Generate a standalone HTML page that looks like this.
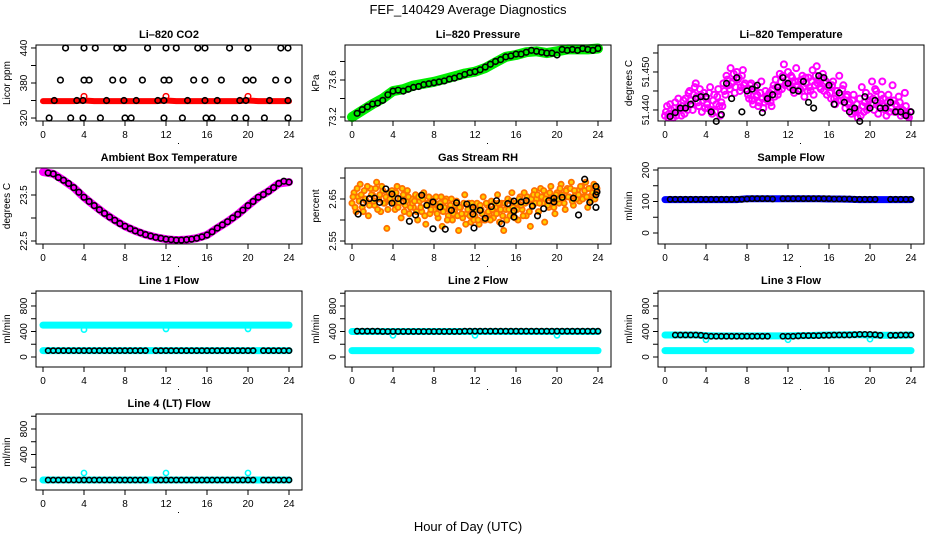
<!DOCTYPE html>
<html><head><meta charset="utf-8">
<style>
html,body{margin:0;padding:0;background:#fff;}
svg{display:block;font-family:"Liberation Sans",Arial,sans-serif;}
</style></head>
<body>
<svg id="chart" width="936" height="540" viewBox="0 0 936 540" xmlns="http://www.w3.org/2000/svg">
<rect x="0" y="0" width="936" height="540" fill="#fff"/>
<text x="468" y="14" text-anchor="middle" font-size="13">FEF_140429  Average Diagnostics</text>
<text x="468" y="531" text-anchor="middle" font-size="13">Hour of Day (UTC)</text>
</svg>
<script>
// ---------- data ----------
const xTicks = [0,4,8,12,16,20,24];
const co2BlackTimes = [2.2,4,5.1,7.2,7.8,10.2,12,13,15.1,15.8,18.2,20,23.2,23.9,
  1.7,4,4.5,6.8,7.8,9.7,11.8,12.3,14.7,15.8,17.4,19.8,20.5,22.7,23.9,
  1.1,3.3,3.9,6.2,7.9,9.1,11.2,11.8,14.1,15.8,17,19.2,19.8,22.1,23.9,
  0.6,2.7,3.9,5.6,8,8.6,11.8,13.6,15.9,16.5,18.7,19.8,21.6,23.9];
const co2BlackValues = [440,440,440,440,440,440,440,440,440,440,440,440,440,440,
  385,385,385,385,385,385,385,385,385,385,385,385,385,385,385,
  350,350,350,350,350,350,350,350,350,350,350,350,350,350,350,
  320,320,320,320,320,320,320,320,320,320,320,320,320,320];
const co2RedBand = [349,349,349,349,350,349,349,349,349,349,349,349,350,349,349,349,349,349,349,349,350,349,349,349,349];
const co2RedBumpTimes = [4,12,20];
const co2RedBumpValues = [357,357,357];

const pressureGreenBand = [73.20,73.27,73.34,73.40,73.48,73.50,73.54,73.56,73.58,73.61,73.64,73.67,73.69,73.73,73.79,73.85,73.87,73.90,73.91,73.89,73.91,73.93,73.93,73.93,73.94];
const pressureBlack = [73.24,73.28,73.31,73.34,73.35,73.38,73.44,73.48,73.49,73.48,73.50,73.52,73.53,73.55,73.56,73.57,73.58,73.59,73.61,73.62,73.64,73.66,73.68,73.69,73.71,73.74,73.77,73.80,73.82,73.85,73.86,73.88,73.88,73.90,73.92,73.91,73.90,73.89,73.89,73.87,73.93,73.92,73.93,73.92,73.94,73.93,73.92,73.94];

const tempMagenta = [51.4385,51.4410,51.4390,51.4400,51.4380,51.4420,51.4395,51.4405,51.4385,51.4425,
 51.4430,51.4400,51.4450,51.4415,51.4440,51.4470,51.4420,51.4455,51.4395,51.4445,
 51.4430,51.4405,51.4460,51.4390,51.4440,51.4415,51.4455,51.4385,51.4410,51.4450,
 51.4490,51.4465,51.4510,51.4475,51.4445,51.4500,51.4485,51.4460,51.4505,51.4470,
 51.4455,51.4430,51.4470,51.4415,51.4460,51.4440,51.4420,51.4475,51.4405,51.4450,
 51.4425,51.4445,51.4410,51.4465,51.4480,51.4440,51.4495,51.4455,51.4520,51.4470,
 51.4500,51.4460,51.4485,51.4445,51.4510,51.4475,51.4455,51.4490,51.4435,51.4470,
 51.4485,51.4450,51.4505,51.4465,51.4515,51.4480,51.4455,51.4495,51.4470,51.4440,
 51.4460,51.4430,51.4475,51.4415,51.4450,51.4490,51.4425,51.4465,51.4405,51.4440,
 51.4420,51.4390,51.4440,51.4400,51.4380,51.4430,51.4460,51.4395,51.4445,51.4410,
 51.4435,51.4475,51.4400,51.4450,51.4390,51.4425,51.4475,51.4410,51.4385,51.4440,
 51.4420,51.4465,51.4395,51.4410,51.4435,51.4385,51.4400,51.4445,51.4390,51.4380];
const tempMagenta2 = [51.4395,51.4380,51.4415,51.4390,51.4405,51.4385,51.4430,51.4400,51.4410,51.4390,
 51.4410,51.4445,51.4425,51.4400,51.4460,51.4435,51.4410,51.4440,51.4425,51.4405,
 51.4415,51.4445,51.4400,51.4425,51.4395,51.4435,51.4410,51.4420,51.4470,51.4440,
 51.4480,51.4455,51.4470,51.4495,51.4460,51.4480,51.4450,51.4490,51.4465,51.4455,
 51.4440,51.4465,51.4425,51.4450,51.4435,51.4410,51.4445,51.4430,51.4420,51.4435,
 51.4440,51.4420,51.4455,51.4435,51.4460,51.4450,51.4475,51.4490,51.4465,51.4480,
 51.4470,51.4490,51.4455,51.4475,51.4465,51.4450,51.4480,51.4460,51.4485,51.4450,
 51.4460,51.4475,51.4440,51.4490,51.4470,51.4460,51.4485,51.4450,51.4475,51.4460,
 51.4445,51.4465,51.4430,51.4450,51.4425,51.4440,51.4455,51.4420,51.4435,51.4415,
 51.4405,51.4425,51.4395,51.4415,51.4400,51.4385,51.4410,51.4420,51.4400,51.4425,
 51.4415,51.4430,51.4455,51.4420,51.4410,51.4440,51.4430,51.4400,51.4420,51.4395,
 51.4405,51.4425,51.4415,51.4395,51.4420,51.4400,51.4390,51.4410,51.4385,51.4395];
const tempBlack = [51.4383,51.4393,51.4405,51.4405,51.4415,51.4430,51.4435,51.4435,51.4395,51.4370,51.4388,51.4470,51.4430,51.4485,51.4395,51.4450,51.4455,51.4465,51.4393,51.4430,51.4440,51.4460,51.4485,51.4470,51.4452,51.4450,51.4475,51.4420,51.4405,51.4490,51.4485,51.4465,51.4415,51.4445,51.4420,51.4395,51.4405,51.4370,51.4435,51.4405,51.4425,51.4405,51.4405,51.4420,51.4395,51.4395,51.4385,51.4395];

const ambientMagentaBand = [24.0,23.96,23.82,23.66,23.45,23.27,23.10,22.95,22.82,22.72,22.64,22.58,22.54,22.52,22.53,22.56,22.63,22.78,22.92,23.08,23.27,23.45,23.58,23.75,23.78];
const ambientBlack = [23.98,23.96,23.88,23.82,23.75,23.66,23.56,23.45,23.36,23.27,23.18,23.10,23.02,22.95,22.88,22.82,22.77,22.72,22.68,22.64,22.61,22.58,22.56,22.54,22.53,22.52,22.52,22.53,22.54,22.56,22.59,22.63,22.70,22.78,22.85,22.92,23.00,23.08,23.17,23.27,23.36,23.45,23.51,23.58,23.66,23.75,23.80,23.78];

const rhOrange = [2.640,2.665,2.620,2.655,2.685,2.630,2.670,2.645,2.610,2.675,
 2.660,2.635,2.690,2.650,2.620,2.670,2.640,2.580,2.665,2.645,
 2.655,2.625,2.680,2.640,2.605,2.660,2.635,2.670,2.615,2.650,
 2.630,2.660,2.600,2.645,2.620,2.665,2.590,2.640,2.615,2.650,
 2.625,2.655,2.605,2.640,2.585,2.630,2.650,2.610,2.635,2.600,
 2.620,2.645,2.575,2.630,2.605,2.660,2.615,2.640,2.595,2.625,
 2.610,2.640,2.590,2.625,2.655,2.600,2.635,2.615,2.645,2.605,
 2.630,2.660,2.595,2.640,2.575,2.625,2.650,2.610,2.665,2.620,
 2.640,2.600,2.655,2.625,2.665,2.610,2.645,2.585,2.635,2.670,
 2.650,2.620,2.675,2.640,2.595,2.660,2.630,2.680,2.645,2.615,
 2.665,2.640,2.685,2.650,2.625,2.675,2.655,2.690,2.635,2.660,
 2.670,2.645,2.680,2.655,2.690,2.630,2.675,2.660,2.685,2.665];
const rhOrange2 = [2.655,2.630,2.675,2.645,2.660,2.620,2.650,2.680,2.635,2.660,
 2.645,2.675,2.625,2.660,2.680,2.640,2.655,2.625,2.650,2.670,
 2.640,2.665,2.630,2.650,2.675,2.620,2.645,2.655,2.630,2.640,
 2.645,2.620,2.655,2.630,2.650,2.610,2.635,2.655,2.625,2.640,
 2.640,2.615,2.630,2.655,2.620,2.645,2.600,2.625,2.650,2.615,
 2.635,2.610,2.630,2.615,2.640,2.590,2.625,2.610,2.640,2.600,
 2.625,2.600,2.635,2.615,2.600,2.640,2.620,2.600,2.625,2.640,
 2.615,2.640,2.625,2.610,2.640,2.600,2.625,2.645,2.630,2.605,
 2.625,2.650,2.635,2.610,2.640,2.655,2.620,2.650,2.660,2.640,
 2.660,2.640,2.655,2.670,2.650,2.635,2.665,2.650,2.630,2.660,
 2.650,2.675,2.660,2.640,2.670,2.655,2.675,2.645,2.670,2.650,
 2.660,2.680,2.650,2.670,2.655,2.675,2.645,2.665,2.650,2.675];
const rhBlackTimes = [0.6,1.1,1.7,2.2,2.7,3.3,3.9,3.9,4.5,5,5.6,6.2,6.8,7.3,7.9,7.9,8.6,9.1,9.7,10.2,11.2,11.8,11.8,11.9,12.5,13,13.6,14.1,14.6,15.2,15.8,15.8,15.8,16.5,17,17.6,18.1,18.7,19.2,19.7,19.7,20.5,21.6,22.1,22.7,23.2,23.8,23.8,23.8,23.9];
const rhBlackValues = [2.614,2.641,2.651,2.652,2.642,2.674,2.662,2.640,2.651,2.645,2.597,2.612,2.659,2.635,2.643,2.579,2.631,2.578,2.623,2.641,2.638,2.630,2.614,2.581,2.623,2.604,2.632,2.646,2.591,2.639,2.645,2.622,2.607,2.643,2.646,2.633,2.610,2.627,2.646,2.643,2.652,2.654,2.652,2.612,2.697,2.642,2.680,2.660,2.630,2.667];

const sampleBlueBand = [106,106,106,106,106,106,106,106,109,109,109,109,109,109,109,109,108,108,107,106,106,106,106,106,106];
const sampleBlack = [107,107,107,107,107,107,107,107,107,107,107,107,107,107,107,108,109,109,109,109,108,null,109,109,109,109,109,109,109,109,109,109,108,108,108,108,107,107,107,107,107,null,null,107,107,107,107,107];

const line1CyanHigh = [500,500,500,500,500,500,500,500,500,500,500,500,500,500,500,500,500,500,500,500,500,500,500,500,500];
const line1CyanLow = [100,100,100,100,100,100,100,100,100,100,100,100,100,100,100,100,100,100,100,100,100,100,100,100,100];
const line1DipValues = [430,440,440];
const line1Black = [100,100,100,100,100,100,100,100,100,100,100,100,100,100,100,100,100,100,100,100,null,100,100,100,100,100,100,100,100,100,100,100,100,100,100,100,100,100,100,100,100,null,100,100,100,100,100,100];

const line2CyanHigh = [400,400,400,400,400,400,400,400,400,400,400,400,400,400,400,400,400,400,400,400,400,400,400,400,400];
const line2CyanLow = [100,100,100,100,100,100,100,100,100,100,100,100,100,100,100,100,100,100,100,100,100,100,100,100,100];
const line2DipValues = [340,340,340];
const line2Black = [405,405,405,405,405,400,400,400,400,400,400,400,400,400,400,400,400,400,400,400,400,405,405,405,405,405,405,405,405,405,405,405,405,405,405,405,405,405,405,405,405,405,405,405,405,405,405,405];

const line3CyanHigh = [345,345,345,345,335,330,330,330,330,330,330,330,330,335,335,340,345,345,350,350,345,340,340,340,345];
const line3CyanLow = [100,100,100,100,100,100,100,100,100,100,100,100,100,100,100,100,100,100,100,100,100,100,100,100,100];
const line3DipValues = [270,270,280];
const line3Black = [null,345,345,345,345,345,340,330,325,325,325,325,325,325,325,325,325,325,325,325,null,null,325,325,325,330,335,335,335,335,340,340,345,345,345,345,350,355,355,355,350,340,null,340,340,345,345,345];

const line4CyanBand = [0,0,0,0,0,0,0,0,0,0,0,0,0,0,0,0,0,0,0,0,0,0,0,0,0];
const line4DipValues = [110,110,110];
const line4Black = [0,0,0,0,0,0,0,0,0,0,0,0,0,0,0,0,0,0,0,0,null,0,0,0,0,0,0,0,0,0,0,0,0,0,0,0,0,0,0,0,0,null,0,0,0,0,0,0];
const dipTimes = [4,12,20];

// ---------- drawing ----------
const NS = "http://www.w3.org/2000/svg";
const svg = document.getElementById('chart');
const COLS = [36,345,658], ROWS = [45,168,291,414], BW = 266, BH = 76;

function el(tag, parent, attrs){
  const e = document.createElementNS(NS, tag);
  for (const k in attrs) e.setAttribute(k, attrs[k]);
  parent.appendChild(e);
  return e;
}

function makePanel(p){
  const L = COLS[p.col], T = ROWS[p.row];
  const g = el('g', svg, {});
  
  
  const xs = h => L + 7 + h * (246 / 24);
  const ys = v => T + (p.ymax - v) / (p.ymax - p.ymin) * BH;
  p.xs = xs; p.ys = ys; p.g = g;
  const title = el('text', g, {x: L + BW/2, y: T - 7, 'text-anchor': 'middle', 'font-size': 11, 'font-weight': 'bold'});
  title.textContent = p.title;
  
  
  const yl = el('text', g, {x: 0, y: 0, 'text-anchor': 'middle', 'font-size': 10, transform: `translate(${L-26},${T+BH/2}) rotate(-90)`});
  yl.textContent = p.ylab;
  
  
  p.yticks.forEach((v, i) => {
    const y = ys(v);
    const t = el('line', g, {x1: L-5, x2: L, y1: y, y2: y, stroke: '#000', 'stroke-width': 1});
    
    
    if (p.ylabels[i]) {
      const tx = el('text', g, {x: 0, y: 0, 'text-anchor': 'middle', 'font-size': 10, transform: `translate(${L-9},${y}) rotate(-90)`});
      tx.textContent = p.ylabels[i];
      
      
    }
  });
  xTicks.forEach(h => {
    const x = xs(h);
    const t = el('line', g, {x1: x, x2: x, y1: T+BH, y2: T+BH+5, stroke: '#000', 'stroke-width': 1});
    
    
    const tx = el('text', g, {x: x, y: T+BH+17, 'text-anchor': 'middle', 'font-size': 10});
    tx.textContent = String(h);
    
    
  });
  const dot = el('rect', g, {x: L+142, y: T+BH+22, width: 1, height: 1, fill: '#000'});
  
  
  const series = el('g', g, {});
  
  
  p.s = series;
  return p;
}

function finishPanel(p){
  const L = COLS[p.col], T = ROWS[p.row];
  const box = el('rect', p.g, {x: L, y: T, width: BW, height: BH, fill: 'none', stroke: '#000', 'stroke-width': 1});
  
  
}

function band(p, values, color, width, name){
  const pts = values.map((v, i) => p.xs(i * 24 / (values.length - 1)).toFixed(1) + ',' + p.ys(v).toFixed(1)).join(' ');
  const pl = el('polyline', p.s, {points: pts, fill: 'none', stroke: color, 'stroke-width': width, 'stroke-linecap': 'round', 'stroke-linejoin': 'round'});
  
  
}

function points(p, times, values, color, r, sw, name, fill){
  values.forEach((v, i) => {
    if (v === null || v === undefined) return;
    const c = el('circle', p.s, {cx: p.xs(times[i]), cy: p.ys(v), r: r, fill: fill || 'none', stroke: color, 'stroke-width': sw});
    
    
  });
}

const halfHours = pressureBlack.map((_, i) => 0.5 * (i + 1));
const fifthHours = tempMagenta.map((_, i) => i * 0.2);
const fifthHoursOffset = tempMagenta2.map((_, i) => i * 0.2 + 0.1);

const flowTicks = [0,200,400,600,800,1000], flowLabels = ['0','','400','','800',''];

let p = makePanel({name:'co2', col:0, row:0, title:'Li–820 CO2', ylab:'Licor ppm', ymin:314.9, ymax:445.1, yticks:[320,350,380,410,440], ylabels:['320','','380','','440']});
band(p, co2RedBand, '#ff0000', 6, 'co2-red-band');
points(p, co2RedBumpTimes, co2RedBumpValues, '#ff0000', 2.8, 1.5, 'co2-red-point');
points(p, co2BlackTimes, co2BlackValues, '#000', 2.8, 1.6, 'co2-black-point');
finishPanel(p);

p = makePanel({name:'pressure', col:1, row:0, title:'Li–820 Pressure', ylab:'kPa', ymin:73.157, ymax:73.978, yticks:[73.2,73.4,73.6,73.8], ylabels:['73.2','','73.6','']});
band(p, pressureGreenBand, '#00ee00', 10, 'pressure-green-band');
points(p, halfHours, pressureBlack, '#000', 2.8, 1.6, 'pressure-black-point');
finishPanel(p);

p = makePanel({name:'li820-temp', col:2, row:0, title:'Li–820 Temperature', ylab:'degrees C', ymin:51.4371, ymax:51.4571, yticks:[51.440,51.445,51.450,51.455], ylabels:['51.440','','51.450','']});
points(p, fifthHours, tempMagenta, '#ff00ff', 3, 2, 'temp-magenta-point');
points(p, fifthHoursOffset, tempMagenta2, '#ff00ff', 3, 2, 'temp-magenta-point');
points(p, halfHours, tempBlack, '#000', 2.8, 1.6, 'temp-black-point');
finishPanel(p);

p = makePanel({name:'ambient', col:0, row:1, title:'Ambient Box Temperature', ylab:'degrees C', ymin:22.435, ymax:24.087, yticks:[22.5,23,23.5,24], ylabels:['22.5','','23.5','']});
band(p, ambientMagentaBand, '#ff00ff', 8, 'ambient-magenta-band');
points(p, halfHours, ambientBlack, '#000', 2.8, 1.6, 'ambient-black-point');
finishPanel(p);

p = makePanel({name:'rh', col:1, row:1, title:'Gas Stream RH', ylab:'percent', ymin:2.5429, ymax:2.7238, yticks:[2.55,2.60,2.65,2.70], ylabels:['2.55','','2.65','']});
points(p, fifthHours, rhOrange, '#ff7000', 2.6, 1.8, 'rh-orange-point', '#ffd000');
points(p, fifthHoursOffset, rhOrange2, '#ff7000', 2.6, 1.8, 'rh-orange-point', '#ffd000');
points(p, rhBlackTimes, rhBlackValues, '#000', 2.8, 1.6, 'rh-black-point');
finishPanel(p);

p = makePanel({name:'sample-flow', col:2, row:1, title:'Sample Flow', ylab:'ml/min', ymin:-34.9, ymax:206.3, yticks:[0,50,100,150,200], ylabels:['0','','100','','200']});
band(p, sampleBlueBand, '#0000ff', 7, 'sample-blue-band');
points(p, halfHours, sampleBlack, '#000', 2.6, 1.6, 'sample-black-point');
finishPanel(p);

p = makePanel({name:'line1', col:0, row:2, title:'Line 1 Flow', ylab:'ml/min', ymin:-157, ymax:1035, yticks:flowTicks, ylabels:flowLabels});
band(p, line1CyanHigh, '#00ffff', 7, 'line1-cyan-high-band');
band(p, line1CyanLow, '#00ffff', 7, 'line1-cyan-low-band');
points(p, dipTimes, line1DipValues, '#00ffff', 2.6, 1.6, 'line1-cyan-dip');
points(p, halfHours, line1Black, '#000', 2.6, 1.6, 'line1-black-point');
finishPanel(p);

p = makePanel({name:'line2', col:1, row:2, title:'Line 2 Flow', ylab:'ml/min', ymin:-157, ymax:1035, yticks:flowTicks, ylabels:flowLabels});
band(p, line2CyanHigh, '#00ffff', 7, 'line2-cyan-high-band');
band(p, line2CyanLow, '#00ffff', 7, 'line2-cyan-low-band');
points(p, dipTimes, line2DipValues, '#00ffff', 2.6, 1.6, 'line2-cyan-dip');
points(p, halfHours, line2Black, '#000', 2.6, 1.6, 'line2-black-point');
finishPanel(p);

p = makePanel({name:'line3', col:2, row:2, title:'Line 3 Flow', ylab:'ml/min', ymin:-157, ymax:1035, yticks:flowTicks, ylabels:flowLabels});
band(p, line3CyanHigh, '#00ffff', 7, 'line3-cyan-high-band');
band(p, line3CyanLow, '#00ffff', 7, 'line3-cyan-low-band');
points(p, dipTimes, line3DipValues, '#00ffff', 2.6, 1.6, 'line3-cyan-dip');
points(p, halfHours, line3Black, '#000', 2.6, 1.6, 'line3-black-point');
finishPanel(p);

p = makePanel({name:'line4', col:0, row:3, title:'Line 4 (LT) Flow', ylab:'ml/min', ymin:-157, ymax:1035, yticks:flowTicks, ylabels:flowLabels});
band(p, line4CyanBand, '#00ffff', 7, 'line4-cyan-band');
points(p, dipTimes, line4DipValues, '#00ffff', 2.6, 1.6, 'line4-cyan-dip');
points(p, halfHours, line4Black, '#000', 2.6, 1.6, 'line4-black-point');
finishPanel(p);
</script>
</body></html>
